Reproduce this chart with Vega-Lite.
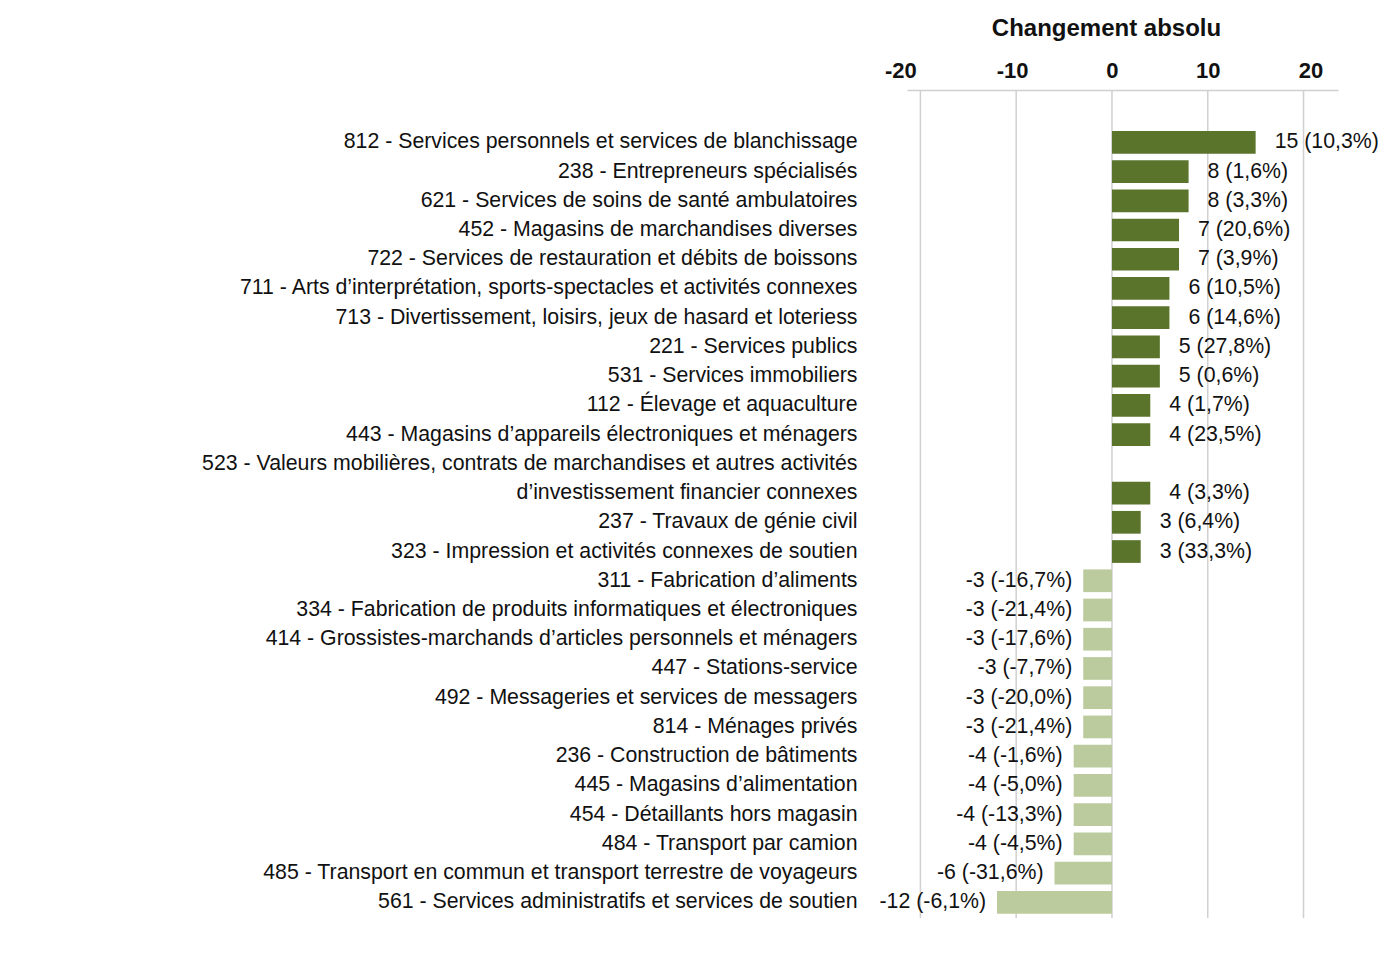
{
  "$schema": "https://vega.github.io/schema/vega-lite/v6.json",
  "width": 431,
  "height": 828,
  "autosize": {"type": "none"},
  "padding": {"left": 907, "top": 90, "right": 52, "bottom": 39},
  "background": "white",
  "config": {"view": {"stroke": null}, "font": "Liberation Sans"},
  "resolve": {"scale": {"y": "independent"}},
  "datasets": {
    "grille": [
      {"graduation": -20},
      {"graduation": -10},
      {"graduation": 0},
      {"graduation": 10},
      {"graduation": 20}
    ],
    "industries": [
      {"industrie": "812 - Services personnels et services de blanchissage", "valeur": 15, "etiquette": "15 (10,3%)"},
      {"industrie": "238 - Entrepreneurs spécialisés", "valeur": 8, "etiquette": "8 (1,6%)"},
      {"industrie": "621 - Services de soins de santé ambulatoires", "valeur": 8, "etiquette": "8 (3,3%)"},
      {"industrie": "452 - Magasins de marchandises diverses", "valeur": 7, "etiquette": "7 (20,6%)"},
      {"industrie": "722 - Services de restauration et débits de boissons", "valeur": 7, "etiquette": "7 (3,9%)"},
      {"industrie": "711 - Arts d’interprétation, sports-spectacles et activités connexes", "valeur": 6, "etiquette": "6 (10,5%)"},
      {"industrie": "713 - Divertissement, loisirs, jeux de hasard et loteriess", "valeur": 6, "etiquette": "6 (14,6%)"},
      {"industrie": "221 - Services publics", "valeur": 5, "etiquette": "5 (27,8%)"},
      {"industrie": "531 - Services immobiliers", "valeur": 5, "etiquette": "5 (0,6%)"},
      {"industrie": "112 - Élevage et aquaculture", "valeur": 4, "etiquette": "4 (1,7%)"},
      {"industrie": "443 - Magasins d’appareils électroniques et ménagers", "valeur": 4, "etiquette": "4 (23,5%)"},
      {"industrie": "523 - Valeurs mobilières, contrats de marchandises et autres activités d’investissement financier connexes", "valeur": 4, "etiquette": "4 (3,3%)"},
      {"industrie": "237 - Travaux de génie civil", "valeur": 3, "etiquette": "3 (6,4%)"},
      {"industrie": "323 - Impression et activités connexes de soutien", "valeur": 3, "etiquette": "3 (33,3%)"},
      {"industrie": "311 - Fabrication d’aliments", "valeur": -3, "etiquette": "-3 (-16,7%)"},
      {"industrie": "334 - Fabrication de produits informatiques et électroniques", "valeur": -3, "etiquette": "-3 (-21,4%)"},
      {"industrie": "414 - Grossistes-marchands d’articles personnels et ménagers", "valeur": -3, "etiquette": "-3 (-17,6%)"},
      {"industrie": "447 - Stations-service", "valeur": -3, "etiquette": "-3 (-7,7%)"},
      {"industrie": "492 - Messageries et services de messagers", "valeur": -3, "etiquette": "-3 (-20,0%)"},
      {"industrie": "814 - Ménages privés", "valeur": -3, "etiquette": "-3 (-21,4%)"},
      {"industrie": "236 - Construction de bâtiments", "valeur": -4, "etiquette": "-4 (-1,6%)"},
      {"industrie": "445 - Magasins d’alimentation", "valeur": -4, "etiquette": "-4 (-5,0%)"},
      {"industrie": "454 - Détaillants hors magasin", "valeur": -4, "etiquette": "-4 (-13,3%)"},
      {"industrie": "484 - Transport par camion", "valeur": -4, "etiquette": "-4 (-4,5%)"},
      {"industrie": "485 - Transport en commun et transport terrestre de voyageurs", "valeur": -6, "etiquette": "-6 (-31,6%)"},
      {"industrie": "561 - Services administratifs et services de soutien", "valeur": -12, "etiquette": "-12 (-6,1%)"}
    ]
  },
  "layer": [
    {
      "data": {"name": "grille"},
      "mark": {"type": "rule", "color": "#d0d0d0", "strokeWidth": 1.5},
      "encoding": {
        "x": {
          "field": "graduation",
          "type": "quantitative",
          "scale": {"domain": [-21.4, 23.6], "nice": false, "zero": false},
          "axis": {
            "orient": "top",
            "values": [-20, -10, 0, 10, 20],
            "labelExpr": "datum.value + ''",
            "grid": false,
            "domain": true,
            "domainColor": "#d0d0d0",
            "domainWidth": 1.5,
            "ticks": false,
            "labelFontSize": 22,
            "labelFontWeight": "bold",
            "labelColor": "#111111",
            "labelPadding": 8,
            "labelOffset": {
              "condition": [
                {"test": "datum.value == -20", "value": -20},
                {"test": "datum.value == -10", "value": -4},
                {"test": "datum.value == 20", "value": 7}
              ],
              "value": 0
            },
            "title": "Changement absolu",
            "titleFontSize": 24,
            "titleFontWeight": "bold",
            "titleColor": "#111111",
            "titlePadding": 19,
            "titleX": 199
          }
        }
      }
    },
    {
      "data": {"name": "industries"},
      "encoding": {
        "x": {"field": "valeur", "type": "quantitative"},
        "y": {
          "field": "industrie",
          "type": "nominal",
          "sort": null,
          "scale": {
            "domain": [
              "812 - Services personnels et services de blanchissage",
              "238 - Entrepreneurs spécialisés",
              "621 - Services de soins de santé ambulatoires",
              "452 - Magasins de marchandises diverses",
              "722 - Services de restauration et débits de boissons",
              "711 - Arts d’interprétation, sports-spectacles et activités connexes",
              "713 - Divertissement, loisirs, jeux de hasard et loteriess",
              "221 - Services publics",
              "531 - Services immobiliers",
              "112 - Élevage et aquaculture",
              "443 - Magasins d’appareils électroniques et ménagers",
              "523 - Valeurs mobilières, contrats de marchandises et autres activités",
              "523 - Valeurs mobilières, contrats de marchandises et autres activités d’investissement financier connexes",
              "237 - Travaux de génie civil",
              "323 - Impression et activités connexes de soutien",
              "311 - Fabrication d’aliments",
              "334 - Fabrication de produits informatiques et électroniques",
              "414 - Grossistes-marchands d’articles personnels et ménagers",
              "447 - Stations-service",
              "492 - Messageries et services de messagers",
              "814 - Ménages privés",
              "236 - Construction de bâtiments",
              "445 - Magasins d’alimentation",
              "454 - Détaillants hors magasin",
              "484 - Transport par camion",
              "485 - Transport en commun et transport terrestre de voyageurs",
              "561 - Services administratifs et services de soutien"
            ],
            "paddingInner": 0.223,
            "paddingOuter": 0.775,
            "align": 0.904
          },
          "axis": {
            "title": null,
            "orient": "left",
            "domain": false,
            "ticks": false,
            "grid": false,
            "labelPadding": 50,
            "labelFontSize": 21.3,
            "labelColor": "#111111",
            "labelLimit": 2000,
            "labelExpr": "indexof(datum.value, 'd’investissement') > 0 ? 'd’investissement financier connexes' : datum.value"
          }
        }
      },
      "layer": [
        {
          "mark": {"type": "bar"},
          "encoding": {
            "color": {
              "condition": {"test": "datum.valeur > 0", "value": "#5b742b"},
              "value": "#bccb9d"
            }
          }
        },
        {
          "transform": [{"filter": "datum.valeur > 0"}],
          "mark": {"type": "text", "align": "left", "baseline": "middle", "dx": 19, "fontSize": 21.3, "color": "#111111", "clip": false},
          "encoding": {"text": {"field": "etiquette", "type": "nominal"}}
        },
        {
          "transform": [{"filter": "datum.valeur < 0"}],
          "mark": {"type": "text", "align": "right", "baseline": "middle", "dx": -11, "fontSize": 21.3, "color": "#111111", "clip": false},
          "encoding": {"text": {"field": "etiquette", "type": "nominal"}}
        }
      ]
    }
  ]
}
